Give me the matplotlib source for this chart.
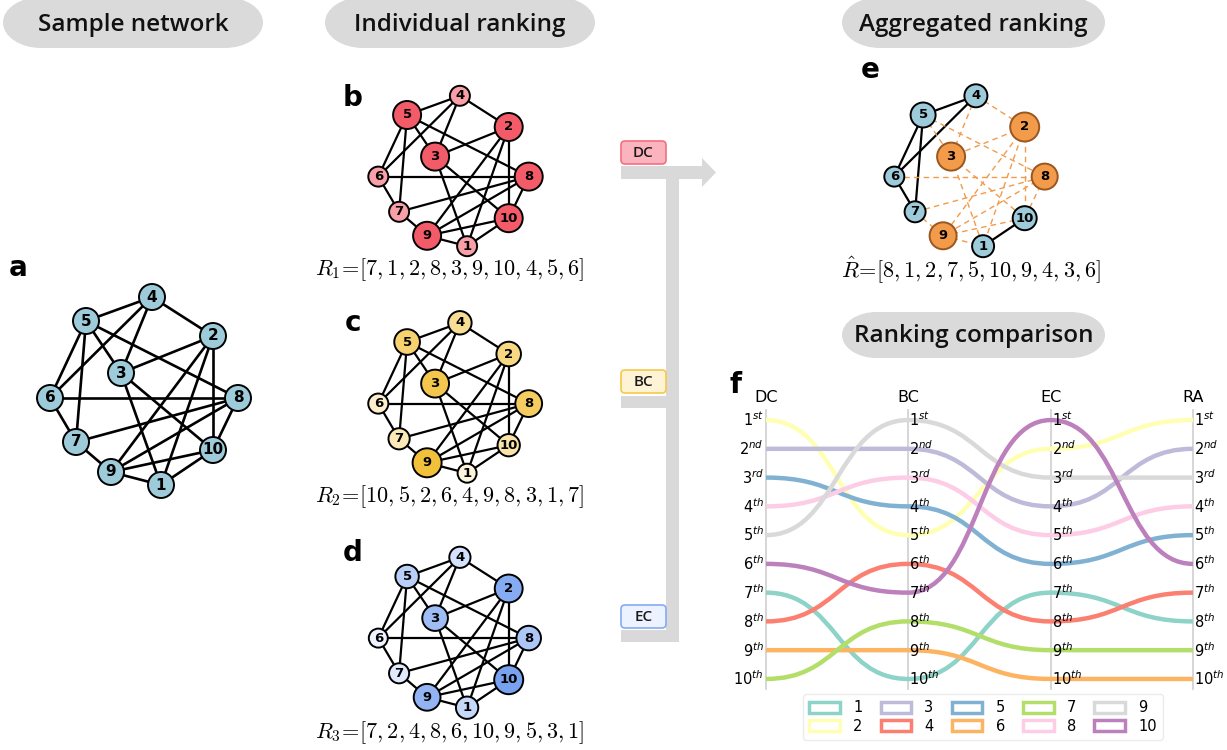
import matplotlib
matplotlib.use("Agg")
import matplotlib.pyplot as plt
import numpy as np
from matplotlib.patches import Circle, Ellipse, FancyBboxPatch, Rectangle, Polygon, PathPatch, Patch
from matplotlib.path import Path
from matplotlib.colors import to_rgb

# ---- network data ----
node_ids = [1, 2, 3, 4, 5, 6, 7, 8, 9, 10]
pos_x = [0.17, 0.69, -0.23, 0.08, -0.58, -0.94, -0.68, 0.94, -0.33, 0.69]
pos_y = [-0.94, 0.55, 0.18, 0.94, 0.70, -0.07, -0.51, -0.07, -0.81, -0.59]
edges = [(5, 4), (4, 2), (4, 3), (4, 6), (5, 3), (5, 8), (5, 6), (5, 7),
         (2, 3), (2, 9), (2, 1), (2, 10), (3, 1), (3, 10), (6, 8), (6, 7),
         (7, 8), (7, 9), (8, 9), (8, 10), (9, 10), (9, 1), (1, 10)]

# rank of node i under each method
rank_dc = [7, 1, 2, 8, 3, 9, 10, 4, 5, 6]
rank_bc = [10, 5, 2, 6, 4, 9, 8, 3, 1, 7]
rank_ec = [7, 2, 4, 8, 6, 10, 9, 5, 3, 1]
rank_ra = [8, 1, 2, 7, 5, 10, 9, 4, 3, 6]
methods = ["DC", "BC", "EC", "RA"]
rank_names = ["st", "nd", "rd", "th", "th", "th", "th", "th", "th", "th"]
top_k = 4

W, H = 1227, 750
fig = plt.figure(figsize=(W / 100, H / 100), dpi=100)

pos = {n: (x, y) for n, x, y in zip(node_ids, pos_x, pos_y)}
degree = {n: sum(n in e for e in edges) for n in node_ids}
head_font = "Open Sans"


def mix(c0, c1, t):
    a, b = np.array(to_rgb(c0)), np.array(to_rgb(c1))
    return tuple(a + (b - a) * t)


def net_axes(cx, cy, scale):
    # axes centred on (cx, cy) in pixels, 'scale' pixels per layout unit
    side = 2.6 * scale
    ax = fig.add_axes([(cx - side / 2) / W, 1 - (cy + side / 2) / H, side / W, side / H])
    ax.set_xlim(-1.3, 1.3)
    ax.set_ylim(-1.3, 1.3)
    ax.set_aspect("equal")
    ax.axis("off")
    return ax


def draw_net(ax, scale, radius_px, fills, edgecol, lw, fsize, styles=None):
    for k, (u, v) in enumerate(edges):
        col, ls, w = ("black", "-", lw) if styles is None else styles[k]
        ax.plot([pos[u][0], pos[v][0]], [pos[u][1], pos[v][1]], color=col,
                ls=ls, lw=w, zorder=1, solid_capstyle="butt")
    for n in node_ids:
        ax.add_patch(Circle(pos[n], radius_px[n] / scale, facecolor=fills[n],
                            edgecolor=edgecol[n], lw=1.4, zorder=2))
        ax.text(pos[n][0], pos[n][1], str(n), ha="center", va="center",
                fontsize=fsize, fontweight="bold", zorder=3)


# overlay in pixel coordinates for pills, arrows and letters
ov = fig.add_axes([0, 0, 1, 1])
ov.set_xlim(0, W)
ov.set_ylim(H, 0)
ov.axis("off")

pill_col = "#dadada"
for (x0, x1, y0, y1, txt) in [(3, 263, -3, 48, "Sample network"),
                              (325, 595, -3, 48, "Individual ranking"),
                              (842, 1105, -3, 48, "Aggregated ranking"),
                              (842, 1105, 312, 358, "Ranking comparison")]:
    h = y1 - y0
    ew = 1.5 * h
    ov.add_patch(Rectangle((x0 + ew / 2, y0), x1 - x0 - ew, h, facecolor=pill_col, edgecolor="none"))
    for xc in (x0 + ew / 2, x1 - ew / 2):
        ov.add_patch(Ellipse((xc, (y0 + y1) / 2), ew, h, facecolor=pill_col, edgecolor="none"))
    ov.text((x0 + x1) / 2, (max(y0, 0) + y1) / 2 + 1, txt, ha="center", va="center",
            fontsize=17.5, family=head_font, fontweight="semibold", color="#111111")

for (x, y, s) in [(18, 268, "a"), (353, 98, "b"), (353, 323, "c"), (353, 553, "d"),
                  (870, 70, "e"), (736, 385, "f")]:
    ov.text(x, y, s, ha="center", va="center", fontsize=20, fontweight="bold")

# arrows joining the individual rankings to the aggregate
gray = "#d9d9d9"
ov.add_patch(Rectangle((666, 172), 13, 470, facecolor=gray, edgecolor="none"))
ov.add_patch(Rectangle((621, 166), 81, 13, facecolor=gray, edgecolor="none"))
ov.add_patch(Polygon([(702, 158), (716, 172.5), (702, 187)], closed=True,
                     facecolor=gray, edgecolor="none"))
for yb in (396, 630):
    ov.add_patch(Rectangle((621, yb), 58, 12, facecolor=gray, edgecolor="none"))
for (yb, txt, fc, ec) in [(141, "DC", "#fbb4be", "#f07080"),
                          (370, "BC", "#fff3d6", "#f5c84a"),
                          (605, "EC", "#ecf2ff", "#86aaf2")]:
    ov.add_patch(FancyBboxPatch((621, yb), 45, 23, boxstyle="round,pad=0,rounding_size=4",
                                facecolor=fc, edgecolor=ec, lw=1.2))
    ov.text(643.5, yb + 12, txt, ha="center", va="center", fontsize=11,
            family=head_font, fontweight="semibold", color="#1a1a1a")

# panel a
ax_a = net_axes(144, 391, 100)
blue = "#9dcbd9"
draw_net(ax_a, 100, {n: 13 for n in node_ids}, {n: blue for n in node_ids},
         {n: "black" for n in node_ids}, 1.9, 11)

# panel b: degree centrality
ax_b = net_axes(453.5, 171, 80)
dmin, dmax = min(degree.values()) - 1, max(degree.values())
tb = {n: (degree[n] - dmin) / (dmax - dmin) for n in node_ids}
draw_net(ax_b, 80, {n: 6 + 8 * tb[n] for n in node_ids},
         {n: mix("#fde3e6", "#f45b69", tb[n]) for n in node_ids},
         {n: "black" for n in node_ids}, 1.6, 9.5)

# panels c, d: betweenness and eigenvector
for cy, ranks, light, dark in [(398, rank_bc, "#fdf4dc", "#f2c13c"),
                               (632.5, rank_ec, "#edf3ff", "#78a2f0")]:
    ax = net_axes(453.5, cy, 80)
    t = {n: (10 - r) / 9 for n, r in zip(node_ids, ranks)}
    draw_net(ax, 80, {n: 9.5 + 5 * t[n] for n in node_ids},
             {n: mix(light, dark, t[n]) for n in node_ids},
             {n: "black" for n in node_ids}, 1.6, 9.5)

# panel e: aggregated ranking, top nodes highlighted
ax_e = net_axes(969.5, 171, 80)
orange = "#f29b4a"
t_ra = {n: (10 - r) / 9 for n, r in zip(node_ids, rank_ra)}
top = {n for n, r in zip(node_ids, rank_ra) if r <= top_k}
styles = [("black", "-", 1.6) if (u not in top and v not in top) else (orange, (0, (4, 3)), 1.0)
          for u, v in edges]
draw_net(ax_e, 80, {n: 10 + 4.5 * t_ra[n] for n in node_ids},
         {n: orange if n in top else blue for n in node_ids},
         {n: "#9a5620" if n in top else "black" for n in node_ids}, 1.6, 9.5, styles)

# ranking vectors
for (x, y, lab) in [(449, 270, r"$R_1\!=\![" + ",".join(map(str, rank_dc)) + "]$"),
                    (449, 497, r"$R_2\!=\![" + ",".join(map(str, rank_bc)) + "]$"),
                    (449, 733, r"$R_3\!=\![" + ",".join(map(str, rank_ec)) + "]$"),
                    (971, 270, r"$\hat{R}\!=\![" + ",".join(map(str, rank_ra)) + "]$")]:
    ov.text(x, y, lab, ha="center", va="center", fontsize=16, math_fontfamily="cm")

# panel f: ranking comparison
colors = plt.get_cmap("Set3").colors[:10]
all_ranks = [rank_dc, rank_bc, rank_ec, rank_ra]
ax_f = fig.add_axes([766 / W, 1 - 689 / H, 427 / W, 279 / H])
ax_f.set_xlim(0, 3)
ax_f.set_ylim(10.35, 0.65)
ax_f.axis("off")
for j in range(4):
    ax_f.plot([j, j], [0.65, 10.35], color="#cfcfcf", lw=1.2, zorder=1, clip_on=False)
for i, n in enumerate(node_ids):
    verts, codes = [], []
    for j in range(3):
        y0, y1 = all_ranks[j][i], all_ranks[j + 1][i]
        if j == 0:
            verts.append((j, y0))
            codes.append(Path.MOVETO)
        verts += [(j + 0.5, y0), (j + 0.5, y1), (j + 1, y1)]
        codes += [Path.CURVE4] * 3
    ax_f.add_patch(PathPatch(Path(verts, codes), facecolor="none", edgecolor=colors[i],
                             lw=3.2, capstyle="butt", zorder=2, clip_on=False))
for j, m in enumerate(methods):
    ax_f.text(j, 0.2, m, ha="center", va="center", fontsize=11.5)
    for r in range(1, 11):
        lab = f"${r}^{{{rank_names[r - 1]}}}$"
        if j == 0:
            ax_f.text(j - 0.015, r, lab, ha="right", va="center", fontsize=10.5, zorder=3)
        else:
            ax_f.text(j + 0.008, r, lab, ha="left", va="center", fontsize=10.5, zorder=3)

handles = [Patch(facecolor="white", edgecolor=c, lw=2.5, label=str(n))
           for n, c in zip(node_ids, colors)]
fig.legend(handles=handles, ncol=5, loc="center", bbox_to_anchor=(983 / W, 1 - 717 / H),
           fontsize=10.5, frameon=True, edgecolor="#e6e6e6", handlelength=2.1,
           handleheight=0.8, columnspacing=1.25, handletextpad=0.9, labelspacing=0.25,
           borderpad=0.4)

fig.savefig("out.png", dpi=100)
